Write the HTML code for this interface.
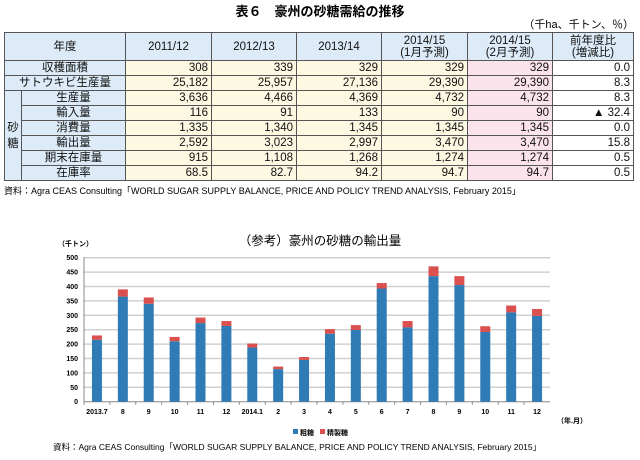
<!DOCTYPE html>
<html><head><meta charset="utf-8"><style>
body{margin:0;width:640px;height:460px;background:#fff;font-family:"Liberation Sans","Noto Sans CJK JP",sans-serif;position:relative;overflow:hidden}
.t{position:absolute;white-space:nowrap}
table{position:absolute;left:4px;top:32px;border-collapse:collapse;font-size:11.5px;color:#111}
td{border:1px solid #555;padding:0 3px;height:14px;line-height:13px}
tr.h td{height:27px;background:#dcebf7;text-align:center;line-height:12px}
td.l{background:#dcebf7;text-align:center}
td.y{background:#fdf8e2;text-align:right}
td.p{background:#fbe3ec;text-align:right}
td.w{text-align:right}
</style></head><body>
<div class="t" style="left:0;width:640px;text-align:center;top:1px;font-size:13px;font-weight:bold">表６　豪州の砂糖需給の推移</div>
<div class="t" style="right:6px;top:16px;font-size:11px">（千ha、千トン、％）</div>
<table>
<colgroup><col style="width:17px"><col style="width:104px"><col style="width:86px"><col style="width:85px"><col style="width:85px"><col style="width:86px"><col style="width:85px"><col style="width:81px"></colgroup>
<tr class="h"><td colspan="2">年度</td><td>2011/12</td><td>2012/13</td><td>2013/14</td><td>2014/15<br>(1月予測)</td><td>2014/15<br>(2月予測)</td><td>前年度比<br>(増減比)</td></tr>
<tr><td class="l" colspan="2">収穫面積</td><td class="y">308</td><td class="y">339</td><td class="y">329</td><td class="y">329</td><td class="p">329</td><td class="w">0.0</td></tr>
<tr><td class="l" colspan="2">サトウキビ生産量</td><td class="y">25,182</td><td class="y">25,957</td><td class="y">27,136</td><td class="y">29,390</td><td class="p">29,390</td><td class="w">8.3</td></tr>
<tr><td class="l" rowspan="6" style="padding:0;line-height:16px">砂<br>糖</td><td class="l">生産量</td><td class="y">3,636</td><td class="y">4,466</td><td class="y">4,369</td><td class="y">4,732</td><td class="p">4,732</td><td class="w">8.3</td></tr>
<tr><td class="l">輸入量</td><td class="y">116</td><td class="y">91</td><td class="y">133</td><td class="y">90</td><td class="p">90</td><td class="w">▲ 32.4</td></tr>
<tr><td class="l">消費量</td><td class="y">1,335</td><td class="y">1,340</td><td class="y">1,345</td><td class="y">1,345</td><td class="p">1,345</td><td class="w">0.0</td></tr>
<tr><td class="l">輸出量</td><td class="y">2,592</td><td class="y">3,023</td><td class="y">2,997</td><td class="y">3,470</td><td class="p">3,470</td><td class="w">15.8</td></tr>
<tr><td class="l">期末在庫量</td><td class="y">915</td><td class="y">1,108</td><td class="y">1,268</td><td class="y">1,274</td><td class="p">1,274</td><td class="w">0.5</td></tr>
<tr><td class="l">在庫率</td><td class="y">68.5</td><td class="y">82.7</td><td class="y">94.2</td><td class="y">94.7</td><td class="p">94.7</td><td class="w">0.5</td></tr>
</table>
<div class="t" style="left:4px;top:184px;font-size:9px">資料：Agra CEAS Consulting「WORLD SUGAR SUPPLY BALANCE, PRICE AND POLICY TREND ANALYSIS, February 2015」</div>

<div class="t" style="left:0;width:640px;text-align:center;top:230px;font-size:12.5px">（参考）豪州の砂糖の輸出量</div>
<svg style="position:absolute;left:0;top:0" width="640" height="460" id="s"></svg>
<div class="t" style="left:53px;top:441px;font-size:8.5px">資料：Agra CEAS Consulting「WORLD SUGAR SUPPLY BALANCE, PRICE AND POLICY TREND ANALYSIS, February 2015」</div>
<script>
var s=document.getElementById('s'),h='';
var x0=84,x1=550,y0=401.7,k=0.288;
h+='<text x="58" y="246" font-size="7" font-weight="bold">（千トン）</text>';
for(var v=0;v<=500;v+=50){var y=y0-v*k;
h+='<line x1="'+x0+'" x2="'+x1+'" y1="'+y+'" y2="'+y+'" stroke="'+(v?'#d0d0d0':'#888')+'" stroke-width="'+(v?1.5:1)+'"/>';
h+='<text x="78" y="'+(y+2.5)+'" font-size="7" font-weight="bold" text-anchor="end">'+v+'</text>';}
var tot=[230,390,362,225,292,280,202,122,155,252,266,412,280,470,436,262,334,322];
var raw=[215,365,340,210,273,263,188,113,145,236,249,393,258,436,405,242,310,298];
var lb=['2013.7','8','9','10','11','12','2014.1','2','3','4','5','6','7','8','9','10','11','12'];
var w=(x1-x0)/18;
for(var i=0;i<18;i++){var c=x0+w*(i+0.5);
h+='<rect x="'+(c-5)+'" y="'+(y0-raw[i]*k)+'" width="10" height="'+raw[i]*k+'" fill="#2e7bb6"/>';
h+='<rect x="'+(c-5)+'" y="'+(y0-tot[i]*k)+'" width="10" height="'+(tot[i]-raw[i])*k+'" fill="#d9504f"/>';
h+='<line x1="'+(x0+w*i)+'" x2="'+(x0+w*i)+'" y1="'+y0+'" y2="'+(y0+3)+'" stroke="#888"/>';
h+='<text x="'+c+'" y="414" font-size="7" font-weight="bold" text-anchor="middle">'+lb[i]+'</text>';}
h+='<line x1="'+x0+'" x2="'+x0+'" y1="257" y2="'+y0+'" stroke="#888"/>';
h+='<text x="557" y="423" font-size="7" font-weight="bold">（年.月）</text>';
h+='<rect x="293" y="429" width="5" height="5" fill="#2e7bb6"/><text x="300" y="435" font-size="7" font-weight="bold">粗糖</text>';
h+='<rect x="320" y="429" width="5" height="5" fill="#d9504f"/><text x="327" y="435" font-size="7" font-weight="bold">精製糖</text>';
s.innerHTML=h;
</script>
</body></html>
